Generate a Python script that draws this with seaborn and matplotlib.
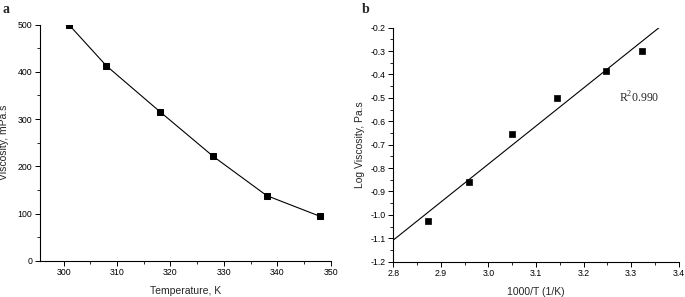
import numpy as np
import pandas as pd
import matplotlib
matplotlib.use("Agg")
import matplotlib.pyplot as plt
from matplotlib.ticker import AutoMinorLocator, MultipleLocator, FormatStrFormatter
import seaborn as sns

# ---- data ----
temperature = [301, 308, 318, 328, 338, 348]          # K
viscosity = [500, 413, 316, 221, 138, 94]              # mPa.s
inv_temperature = [3.322, 3.247, 3.145, 3.049, 2.959, 2.874]   # 1000/T (1/K)
log_viscosity = [-0.302, -0.385, -0.500, -0.655, -0.860, -1.027]  # log Pa.s
r2_text = "R$^2$0.990"

sns.set_style("ticks")
plt.rcParams['font.family'] = ['Liberation Sans', 'DejaVu Sans']
plt.rcParams['mathtext.fontset'] = 'custom'
plt.rcParams['mathtext.rm'] = 'Liberation Serif'

fig = plt.figure(figsize=(6.85, 2.97), dpi=100)
ax1 = fig.add_axes([0.0584, 0.122, 0.4246, 0.795])
ax2 = fig.add_axes([0.574, 0.119, 0.417, 0.788])

df_a = pd.DataFrame({"T": temperature, "V": viscosity})
sns.lineplot(data=df_a, x="T", y="V", ax=ax1, color="black", linewidth=0.8,
             marker="s", markersize=4.5, markeredgecolor="black", clip_on=True)
ax1.set_xlim(295.6, 350)
ax1.set_ylim(0, 500)
ax1.xaxis.set_major_locator(MultipleLocator(10))
ax1.yaxis.set_major_locator(MultipleLocator(100))
ax1.set_xlabel("Temperature, K", fontsize=7.5, labelpad=6)
ax1.set_ylabel("Viscosity, mPa.s", fontsize=7.5, labelpad=6)

df_b = pd.DataFrame({"x": inv_temperature, "y": log_viscosity})
sns.scatterplot(data=df_b, x="x", y="y", ax=ax2, color="black", marker="s",
                s=18, edgecolor="black", linewidth=0.5, zorder=3)
slope, intercept = np.polyfit(inv_temperature, log_viscosity, 1)
xfit = np.array([2.8, 3.4])
sns.lineplot(x=xfit, y=slope * xfit + intercept, ax=ax2, color="black", linewidth=0.8)
ax2.set_xlim(2.8, 3.4)
ax2.set_ylim(-1.2, -0.2)
ax2.xaxis.set_major_locator(MultipleLocator(0.1))
ax2.yaxis.set_major_locator(MultipleLocator(0.1))
ax2.set_xlabel("1000/T (1/K)", fontsize=7.5, labelpad=6)
ax2.set_ylabel("Log Viscosity, Pa.s", fontsize=7.5, labelpad=4)
ax2.text(0.86, 0.70, r2_text, transform=ax2.transAxes, fontsize=8.5,
         family="Liberation Serif", ha="center", va="center")

for ax in (ax1, ax2):
    sns.despine(ax=ax)
    ax.xaxis.set_minor_locator(AutoMinorLocator(2))
    ax.yaxis.set_minor_locator(AutoMinorLocator(2))
    ax.tick_params(which="major", length=3.5, width=0.7, labelsize=6.3, pad=2, colors="black")
    ax.tick_params(which="minor", length=2, width=0.7)
    for s in ("left", "bottom"):
        ax.spines[s].set_linewidth(0.8)
        ax.spines[s].set_color("black")

ax2.yaxis.set_major_formatter(FormatStrFormatter("%.1f"))
ax2.xaxis.set_major_formatter(FormatStrFormatter("%.1f"))

fig.text(0.004, 0.968, "a", fontsize=10, fontweight="bold", family="Liberation Serif",
         ha="left", va="center")
fig.text(0.528, 0.968, "b", fontsize=10, fontweight="bold", family="Liberation Serif",
         ha="left", va="center")

fig.savefig("out.png", dpi=100)
